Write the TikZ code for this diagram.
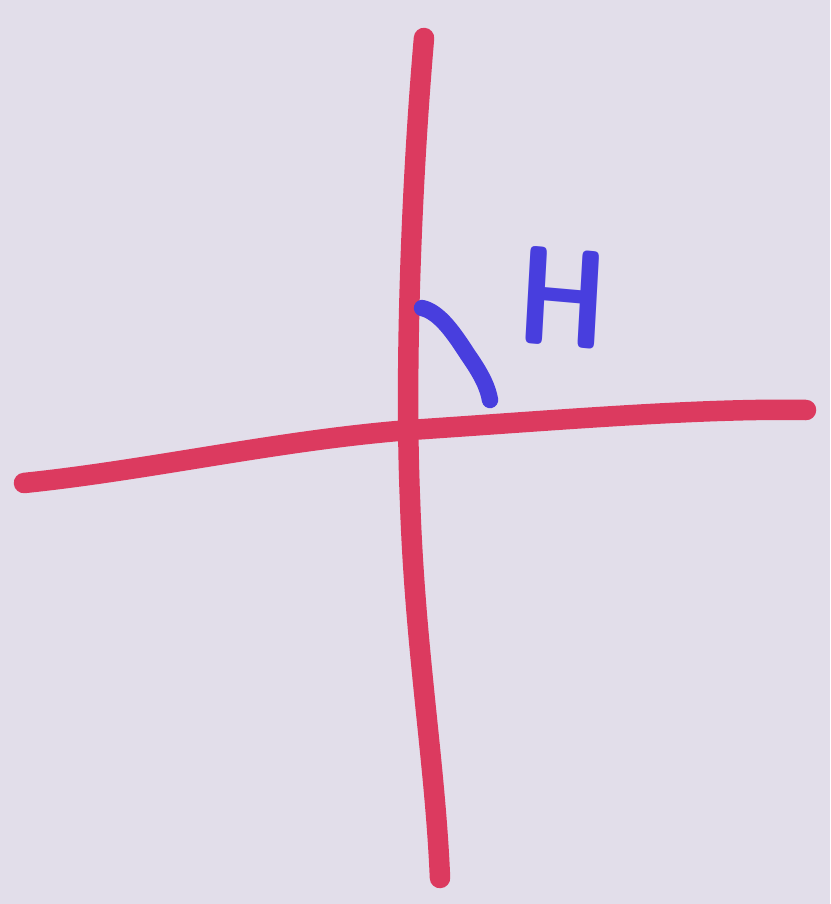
\documentclass[tikz,border=0pt]{standalone}
\usetikzlibrary{calc}
\definecolor{paper}{RGB}{226,222,234}
\definecolor{marker}{RGB}{220,58,95}
\definecolor{ink}{RGB}{72,62,222}
\tikzset{
  axisline/.style={draw=marker, line width=17.5pt, line cap=round, line join=round},
  inkline/.style={draw=ink, line width=14pt, line cap=round, line join=round},
  letter/.style={text=ink, inner sep=0pt, font=\sffamily\bfseries\fontsize{120}{120}\selectfont, xscale=0.8, rotate=-4}
}
\begin{document}
\begin{tikzpicture}[x=0.03cm,y=-0.03cm]
\fill[paper] (0,0) rectangle (830,904);
\useasboundingbox (0,0) rectangle (830,904);
% coordinates
\coordinate (vtop) at (424,38);
\coordinate (vbot) at (440,878);
\coordinate (hleft) at (24,483);
\coordinate (hright) at (806,410);
\coordinate (cstart) at (422,308);
\coordinate (cend) at (490,400);
% vertical axis
\draw[axisline] (vtop) .. controls (410,200) and (405,380) .. (410,500)
  .. controls (415,650) and (435,760) .. (vbot);
% horizontal axis
\draw[axisline] (hleft) .. controls (150,470) and (280,440) .. (410,430)
  .. controls (560,420) and (700,408) .. (hright);
% blue curve
\draw[inkline] (cstart) .. controls (440,312) and (455,335) .. (468,355)
  .. controls (482,375) and (488,388) .. (cend);
% letter
\node[letter] (h) at (563,298) {H};
\end{tikzpicture}
\end{document}
